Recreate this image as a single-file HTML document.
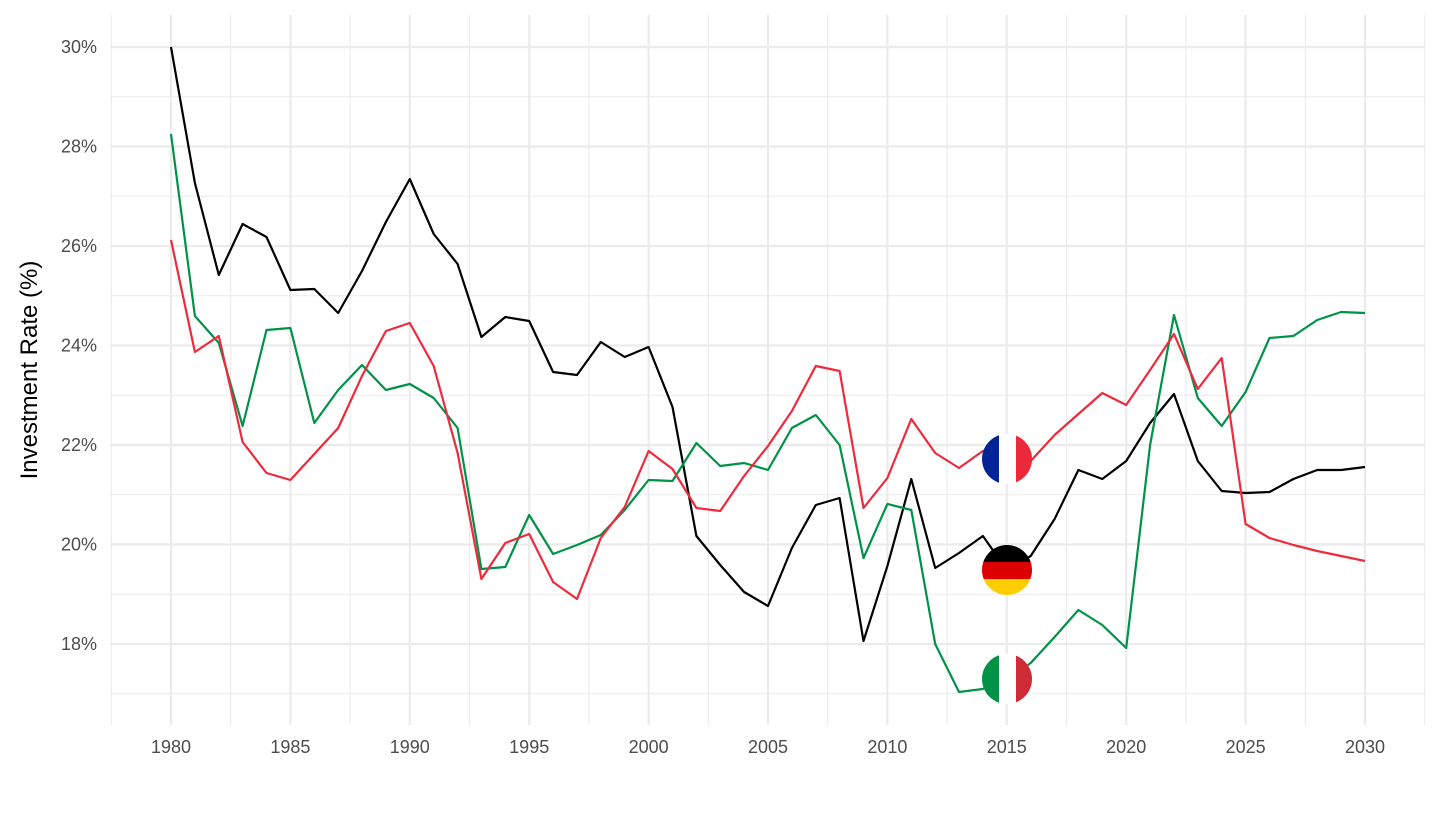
<!DOCTYPE html>
<html><head><meta charset="utf-8"><style>
body{margin:0;background:#fff;}
svg text{font-family:"Liberation Sans",sans-serif;}
</style></head><body>
<svg id="s" width="1440" height="810" xmlns="http://www.w3.org/2000/svg">
<defs>
<clipPath id="cf"><circle cx="1007" cy="459" r="25"/></clipPath>
<clipPath id="cg"><circle cx="1007" cy="570" r="25"/></clipPath>
<clipPath id="ci"><circle cx="1007" cy="679" r="25"/></clipPath>
</defs>
<g id="grid"></g>
<g id="lines" fill="none" stroke-width="2.2" stroke-linejoin="round"></g>
<g clip-path="url(#cf)"><rect x="982" y="434" width="17" height="50" fill="#002395"/><rect x="999" y="434" width="17" height="50" fill="#fff"/><rect x="1016" y="434" width="17" height="50" fill="#ED2939"/></g>
<g clip-path="url(#cg)"><rect x="982" y="545" width="50" height="17" fill="#000"/><rect x="982" y="562" width="50" height="17" fill="#DD0000"/><rect x="982" y="579" width="50" height="17" fill="#FFCE00"/></g>
<g clip-path="url(#ci)"><rect x="982" y="654" width="17" height="50" fill="#009246"/><rect x="999" y="654" width="17" height="50" fill="#fff"/><rect x="1016" y="654" width="17" height="50" fill="#CE2B37"/></g>
<text x="37" y="370" font-size="24" fill="#000" text-anchor="middle" transform="rotate(-90 37 370)">Investment Rate (%)</text>
</svg>
<script>
const g=document.getElementById('grid'),L=document.getElementById('lines');
const X=y=>171+(y-1980)*23.88, Y=v=>47+(30-v)*49.75;
let h='';
for(let v=17;v<=30;v++){const y=Y(v);h+=`<line x1="110" x2="1425" y1="${y}" y2="${y}" stroke="#ebebeb" stroke-width="${v%2?1.1:2.2}"/>`;
if(v%2==0)h+=`<text x="97" y="${y+6}" font-size="18" fill="#4d4d4d" text-anchor="end">${v}%</text>`;}
for(let yr=1977.5;yr<=2032.5;yr+=2.5){const x=X(yr);const maj=yr%5==0;h+=`<line y1="15" y2="725" x1="${x}" x2="${x}" stroke="#ebebeb" stroke-width="${maj?2.2:1.1}"/>`;
if(maj)h+=`<text x="${x}" y="753" font-size="18" fill="#4d4d4d" text-anchor="middle">${yr}</text>`;}
g.innerHTML=h;
const d={
'#000':[47,183,275,224,237,290,289,313,271,222,179,234,264,337,317,321,372,375,342,357,347,407,536,565,592,606,548,505,498,641,566,479,568,553,536,570,556,519,470,479,461,423,394,461,491,493,492,479,470,470,467],
'#009247':[134,316,343,426,330,328,423,390,365,390,384,398,428,569,567,515,554,545,535,510,480,481,443,466,463,470,428,415,445,558,504,510,644,692,689,680,663,637,610,625,648,445,315,398,426,392,338,336,320,312,313],
'#ee2a3c':[240,352,336,442,473,480,454,428,376,331,323,366,453,579,543,534,582,599,538,507,451,469,508,511,476,446,411,366,371,508,478,419,453,468,451,456,461,435,414,393,405,370,334,389,358,524,538,545,551,556,561]};
let l='';
for(const c in d){l+=`<polyline stroke="${c}" points="${d[c].map((p,i)=>X(1980+i).toFixed(1)+','+p).join(' ')}"/>`;}
L.innerHTML=l;
</script>
</body></html>
